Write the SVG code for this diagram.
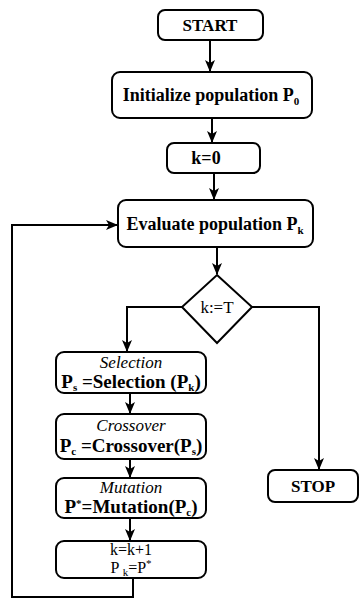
<svg xmlns="http://www.w3.org/2000/svg" width="362" height="605" viewBox="0 0 362 605">
<defs>
<marker id="ah" viewBox="0 0 12 10" refX="11" refY="5" markerWidth="12" markerHeight="10" markerUnits="userSpaceOnUse" orient="auto">
<path d="M0,0 L12,5 L0,10 L3,5 Z" fill="#000"/>
</marker>
</defs>
<rect width="362" height="605" fill="#fff"/>
<g id="connectors" fill="none" stroke="#000" stroke-width="2">
<line x1="210" y1="40" x2="210" y2="71" marker-end="url(#ah)"/>
<line x1="212" y1="118" x2="212" y2="142" marker-end="url(#ah)"/>
<line x1="214" y1="173" x2="214" y2="199" marker-end="url(#ah)"/>
<line x1="217" y1="247" x2="217" y2="274" marker-end="url(#ah)"/>
<polyline points="182,307 127,307 127,351" marker-end="url(#ah)"/>
<polyline points="252,307 319,307 319,469" marker-end="url(#ah)"/>
<line x1="130" y1="393" x2="130" y2="413" marker-end="url(#ah)"/>
<line x1="130" y1="459" x2="130" y2="477" marker-end="url(#ah)"/>
<line x1="130" y1="518" x2="130" y2="540" marker-end="url(#ah)"/>
<polyline points="133,578 133,597 12,597 12,225 117,225" marker-end="url(#ah)"/>
</g>
<g font-family="Liberation Serif" text-anchor="middle" fill="#000">
<g id="start">
<rect x="158" y="10" width="105" height="30" rx="7" fill="#fff" stroke="#000" stroke-width="2"/>
<text x="210" y="31" font-size="17" font-weight="bold">START</text>
</g>
<g id="init">
<rect x="112" y="72" width="200" height="46" rx="8" fill="#fff" stroke="#000" stroke-width="2"/>
<text x="211" y="101" font-size="18" font-weight="bold">Initialize population P<tspan font-size="11" dy="4">0</tspan></text>
</g>
<g id="k0">
<rect x="167" y="143" width="93" height="30" rx="7" fill="#fff" stroke="#000" stroke-width="2"/>
<text x="206" y="164" font-size="18" font-weight="bold">k=0</text>
</g>
<g id="evaluate">
<rect x="118" y="200" width="195" height="47" rx="8" fill="#fff" stroke="#000" stroke-width="2"/>
<text x="215" y="230" font-size="18" font-weight="bold">Evaluate population P<tspan font-size="11" dy="4">k</tspan></text>
</g>
<g id="decision">
<polygon points="217,275 252,307 217,343 182,307" fill="#fff" stroke="#000" stroke-width="2"/>
<text x="217" y="313" font-size="17">k:=T</text>
</g>
<g id="selection">
<rect x="56" y="352" width="150" height="41" rx="8" fill="#fff" stroke="#000" stroke-width="2"/>
<text x="131" y="368" font-size="17" font-style="italic">Selection</text>
<text x="131" y="388" font-size="19" font-weight="bold">P<tspan font-size="11" dy="3">s</tspan><tspan dy="-3"> =Selection (P</tspan><tspan font-size="11" dy="3">k</tspan><tspan dy="-3">)</tspan></text>
</g>
<g id="crossover">
<rect x="56" y="414" width="150" height="45" rx="8" fill="#fff" stroke="#000" stroke-width="2"/>
<text x="131" y="431" font-size="17" font-style="italic">Crossover</text>
<text x="131" y="452" font-size="19" font-weight="bold">P<tspan font-size="11" dy="3">c</tspan><tspan dy="-3"> =Crossover(P</tspan><tspan font-size="11" dy="3">s</tspan><tspan dy="-3">)</tspan></text>
</g>
<g id="mutation">
<rect x="56" y="478" width="150" height="40" rx="8" fill="#fff" stroke="#000" stroke-width="2"/>
<text x="131" y="493" font-size="17" font-style="italic">Mutation</text>
<text x="131" y="513" font-size="19" font-weight="bold">P<tspan font-size="11" dy="-6">*</tspan><tspan dy="6">=Mutation(P</tspan><tspan font-size="11" dy="3">c</tspan><tspan dy="-3">)</tspan></text>
</g>
<g id="update">
<rect x="56" y="541" width="150" height="37" rx="8" fill="#fff" stroke="#000" stroke-width="2"/>
<text x="131" y="555" font-size="16">k=k+1</text>
<text x="131" y="573" font-size="16">P <tspan font-size="11" dy="3">k</tspan><tspan dy="-3">=P</tspan><tspan font-size="11" dy="-6">*</tspan></text>
</g>
<g id="stop">
<rect x="268" y="470" width="90" height="32" rx="7" fill="#fff" stroke="#000" stroke-width="2"/>
<text x="313" y="492" font-size="17" font-weight="bold">STOP</text>
</g>
</g>
</svg>
